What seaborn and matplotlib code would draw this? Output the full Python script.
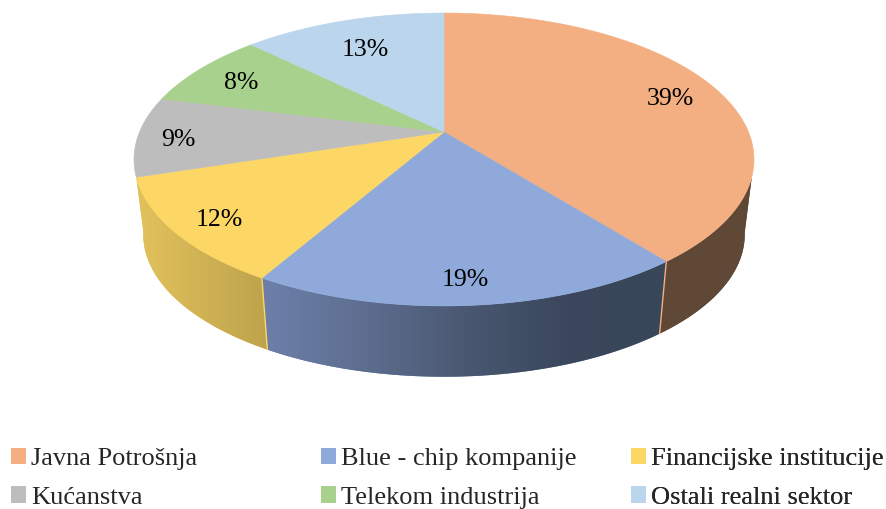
import numpy as np
import matplotlib
matplotlib.use("Agg")
import matplotlib.pyplot as plt
from matplotlib.colors import LinearSegmentedColormap
from matplotlib.patches import Patch, Polygon
import seaborn as sns

categories = ["Javna Potrošnja", "Blue - chip kompanije", "Financijske institucije",
              "Kućanstva", "Telekom industrija", "Ostali realni sektor"]
values = [39.3, 19.05, 11.77, 8.8, 8.38, 12.7]
colors = ["#F3AF82", "#8FAADA", "#FCD765", "#BDBDBD", "#A9D18E", "#BAD5EC"]

sns.set_theme(style="white")
plt.rcParams["font.family"] = ["Liberation Serif", "DejaVu Sans"]

# projection of the unit pie to pixels (the tilted disc is a perspective view)
APEX_X, APEX_Y = 444, 132
RX, RY, K = 304.5, 141.3, 0.1877
DEPTH, SHRINK = 76, 0.97


def top(x, y):
    d = 1 + K * y
    return APEX_X + RX * x / d, APEX_Y - RY * y / d


def bottom(x, y):
    d = 1 + K * y
    return APEX_X + SHRINK * RX * x / d, APEX_Y + DEPTH - SHRINK * RY * y / d


def arc(func, a, b):
    t = np.radians(np.linspace(a, b, 90))
    return np.column_stack(func(np.cos(t), np.sin(t)))


fig = plt.figure(figsize=(8.86, 5.09), dpi=100)
ax = fig.add_axes([0, 0, 1, 1])
wedges, texts = ax.pie(values, colors=sns.color_palette(colors), startangle=90, counterclock=False)

seam_right = wedges[0].theta1
seam_left = wedges[1].theta1
yellow_end = wedges[2].theta1

# sides: only the slices facing the viewer, each with its own shading
sides = [
    (arc(top, seam_right, -17.5), arc(bottom, -10, seam_right), ["#5F4836", "#604837"]),
    (arc(top, seam_left, seam_right), arc(bottom, seam_right, seam_left),
     ["#6D80AA", "#5E6E90", "#4A5872", "#3A475C", "#384659"]),
    (arc(top, yellow_end, seam_left), arc(bottom, seam_left, yellow_end - 8), ["#E3C25C", "#BEA34C"]),
]
for i, (upper, lower, shades) in enumerate(sides):
    poly = np.vstack([upper, lower])
    patch = Polygon(poly, closed=True, facecolor=shades[0], edgecolor="none", zorder=1)
    ax.add_patch(patch)
    cmap = LinearSegmentedColormap.from_list(f"side{i}", shades)
    im = ax.imshow(np.linspace(0, 1, 256)[None, :], cmap=cmap, aspect="auto", zorder=1.1,
                   extent=(poly[:, 0].min(), poly[:, 0].max(), poly[:, 1].max(), poly[:, 1].min()))
    im.set_clip_path(patch)

# thin light seams between the side faces
for ang, col in [(seam_right, colors[0]), (seam_left, colors[2])]:
    t = np.radians(ang)
    p1, p2 = top(np.cos(t), np.sin(t)), bottom(np.cos(t), np.sin(t))
    ax.plot([p1[0], p2[0]], [p1[1], p2[1]], color=col, lw=1, zorder=1.2)

# top face: wedges from pie re-projected
for w, col in zip(wedges, colors):
    t = np.radians(np.linspace(w.theta1, w.theta2, 120))
    x = np.r_[0, np.cos(t)]
    y = np.r_[0, np.sin(t)]
    X, Y = top(x, y)
    w.set_visible(False)
    ax.add_patch(Polygon(np.column_stack([X, Y]), closed=True, facecolor=col, edgecolor=col, lw=0.4, zorder=2))

# percent labels
label_r = [0.83, 0.86, 0.85, 0.86, 0.82, 0.75]
label_dx = [-1, -2, 0, -3, 0, 0]
for w, v, r, dx in zip(wedges, values, label_r, label_dx):
    t = np.radians((w.theta1 + w.theta2) / 2)
    X, Y = top(r * np.cos(t), r * np.sin(t))
    ax.text(X + dx, Y + 4, f"{round(v)}%", ha="center", va="center", fontsize=18.5, color="black", zorder=3)

ax.set_aspect("auto")
ax.set_xlim(0, 886)
ax.set_ylim(509, 0)
ax.axis("off")

# legend: three columns, placed one by one since Excel spaces them unevenly
for col, x0 in enumerate([11, 321, 631]):
    idx = [col, col + 3]
    handles = [Patch(facecolor=colors[i], edgecolor="none") for i in idx]
    leg = ax.legend(handles, [categories[i] for i in idx], loc="upper left", frameon=False,
                    bbox_to_anchor=(x0, 448), bbox_transform=ax.transData, borderpad=0, borderaxespad=0,
                    fontsize=19, handlelength=0.57, handleheight=0.57, handletextpad=0.19, labelspacing=0.6)
    ax.add_artist(leg)

fig.savefig("out.png", dpi=100)
plt.close(fig)
